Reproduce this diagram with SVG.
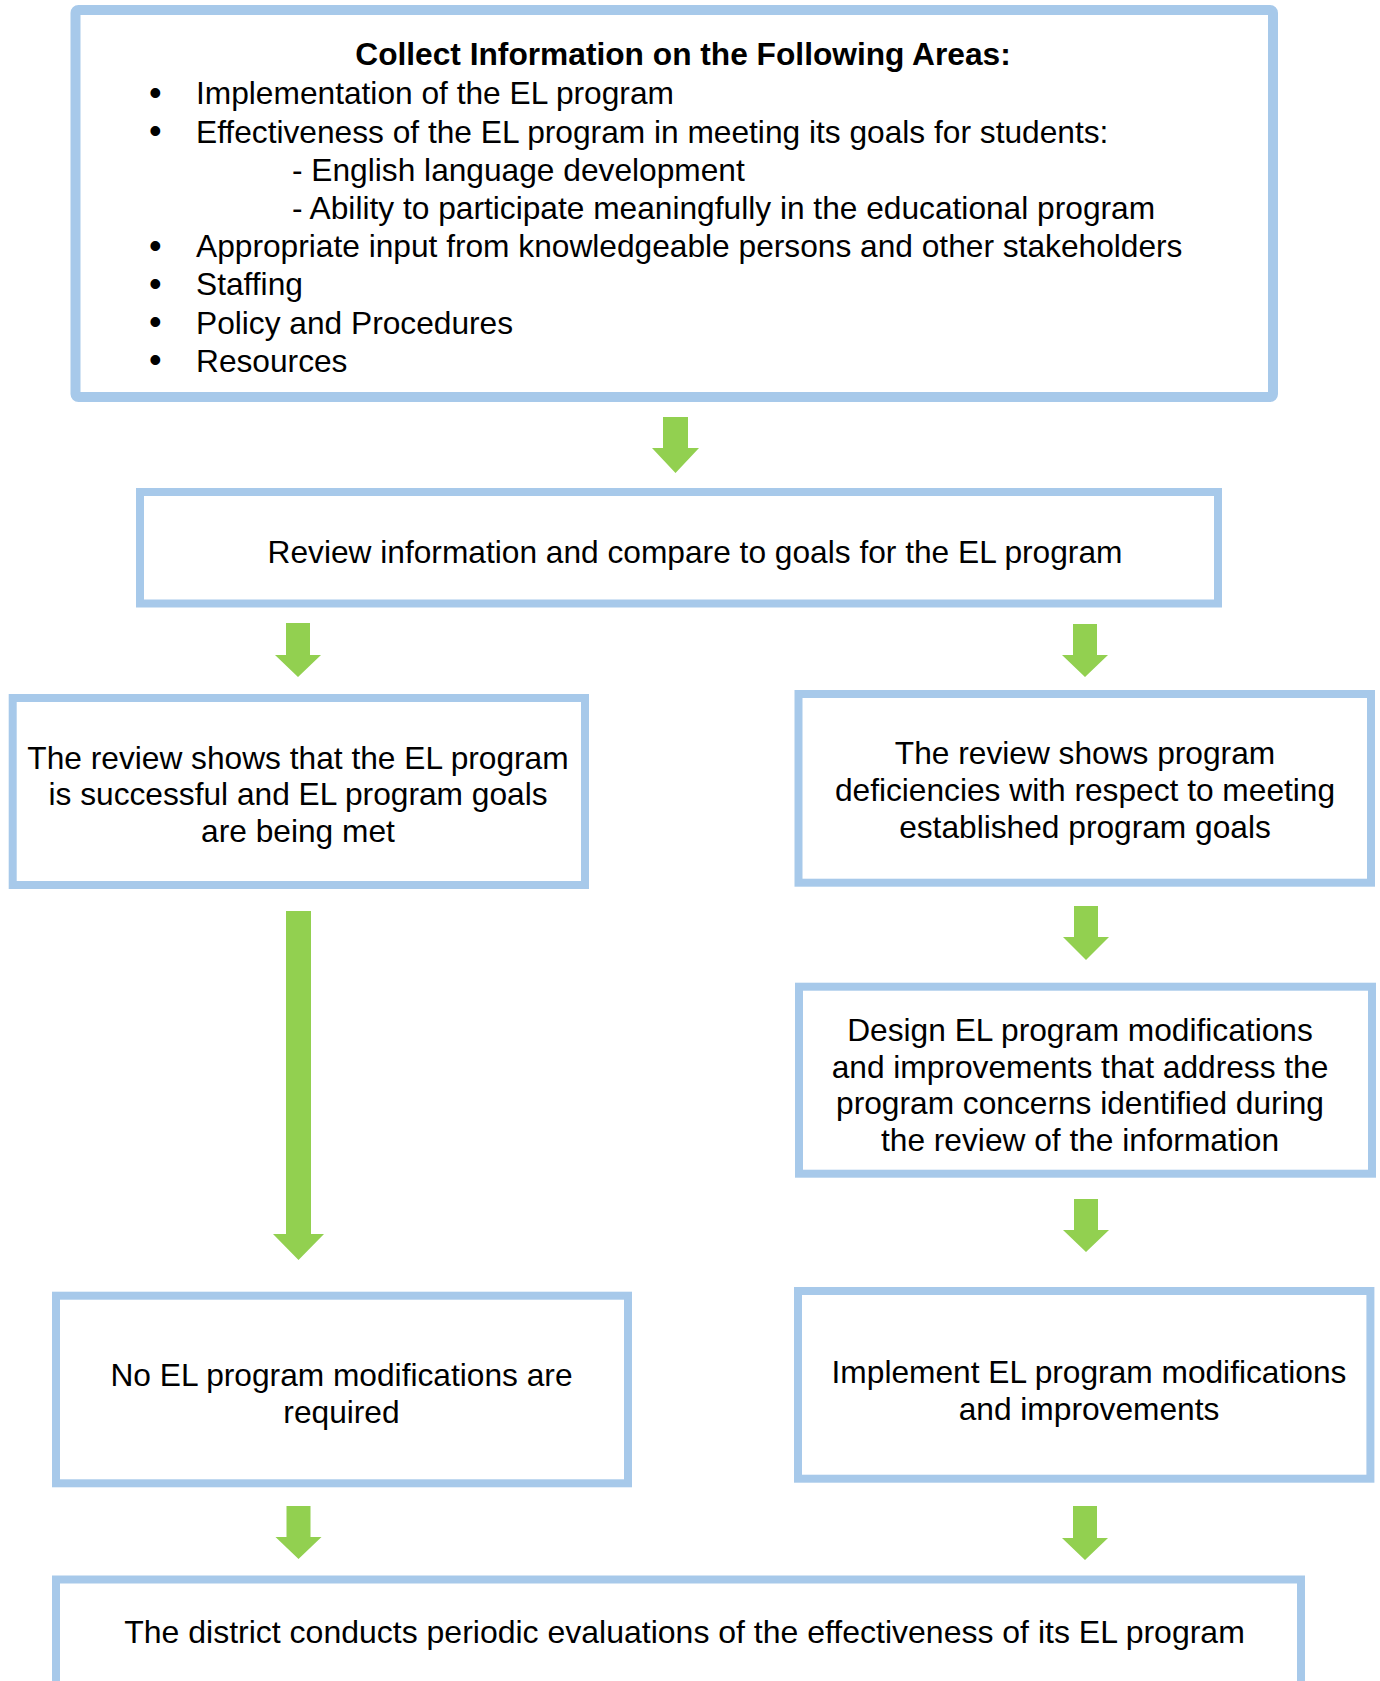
<svg xmlns="http://www.w3.org/2000/svg" width="1380" height="1681" viewBox="0 0 1380 1681">
<style>
.box{fill:#fff;stroke:#A7C9EA;stroke-width:8}
.t{font-family:"Liberation Sans",Arial,sans-serif;font-size:31.7px;fill:#000}
.c{text-anchor:middle}
.b{font-weight:bold}
.bl{font-size:36px}
.arr{fill:#92D050}
</style>
<rect width="1380" height="1681" fill="#fff"/>
<g id="connectors">
<polygon class="arr" points="663,417 688,417 688,448 699,448 675.5,473 652,448 663,448"/>
<polygon class="arr" points="286,623 310,623 310,655 321,655 298,677 275,655 286,655"/>
<polygon class="arr" points="1073,624 1097,624 1097,655 1108,655 1085,677 1062,655 1073,655"/>
<polygon class="arr" points="1074,906 1098,906 1098,937 1109,937 1086,960 1063,937 1074,937"/>
<polygon class="arr" points="286,911 311,911 311,1234 324,1234 298.5,1260 273,1234 286,1234"/>
<polygon class="arr" points="1074,1199 1098,1199 1098,1230 1109,1230 1086,1252 1063,1230 1074,1230"/>
<polygon class="arr" points="286.5,1506 310.5,1506 310.5,1537 321.5,1537 298.5,1559 275.5,1537 286.5,1537"/>
<polygon class="arr" points="1073,1506 1097,1506 1097,1538 1108,1538 1085,1560 1062,1538 1073,1538"/>
</g>
<g id="collect">
<rect class="box" x="75.5" y="10" width="1197.5" height="387" rx="3" style="stroke-width:10"/>
<text class="t c b" x="683" y="65">Collect Information on the Following Areas:</text>
<text class="t bl" x="149" y="105">•</text>
<text class="t" x="196" y="104.3">Implementation of the EL program</text>
<text class="t bl" x="149" y="143.2">•</text>
<text class="t" x="196" y="142.5">Effectiveness of the EL program in meeting its goals for students:</text>
<text class="t" x="292" y="180.7">- English language development</text>
<text class="t" x="292" y="218.9">- Ability to participate meaningfully in the educational program</text>
<text class="t bl" x="149" y="257.8">•</text>
<text class="t" x="196" y="257.1">Appropriate input from knowledgeable persons and other stakeholders</text>
<text class="t bl" x="149" y="296">•</text>
<text class="t" x="196" y="295.3">Staffing</text>
<text class="t bl" x="149" y="334.2">•</text>
<text class="t" x="196" y="333.5">Policy and Procedures</text>
<text class="t bl" x="149" y="372.4">•</text>
<text class="t" x="196" y="371.7">Resources</text>
</g>
<g id="review">
<rect class="box" x="140" y="492" width="1078" height="111.5"/>
<text class="t c" x="695" y="563">Review information and compare to goals for the EL program</text>
</g>
<g id="success">
<rect class="box" x="12.7" y="698" width="572.3" height="187"/>
<text class="t c" x="298" y="768.5">The review shows that the EL program</text>
<text class="t c" x="298" y="805">is successful and EL program goals</text>
<text class="t c" x="298" y="841.5">are being met</text>
</g>
<g id="deficiencies">
<rect class="box" x="798.5" y="694" width="572.5" height="188.7"/>
<text class="t c" x="1085" y="764.3">The review shows program</text>
<text class="t c" x="1085" y="801">deficiencies with respect to meeting</text>
<text class="t c" x="1085" y="837.7">established program goals</text>
</g>
<g id="design">
<rect class="box" x="799" y="986.7" width="573" height="187"/>
<text class="t c" x="1080" y="1041">Design EL program modifications</text>
<text class="t c" x="1080" y="1077.7">and improvements that address the</text>
<text class="t c" x="1080" y="1114.3">program concerns identified during</text>
<text class="t c" x="1080" y="1151">the review of the information</text>
</g>
<g id="nomod">
<rect class="box" x="56" y="1295.7" width="572" height="187.6"/>
<text class="t c" x="341.5" y="1386">No EL program modifications are</text>
<text class="t c" x="341.5" y="1422.7">required</text>
</g>
<g id="implement">
<rect class="box" x="798" y="1291" width="572.4" height="187.7"/>
<text class="t c" x="1089" y="1383.3">Implement EL program modifications</text>
<text class="t c" x="1089" y="1420">and improvements</text>
</g>
<g id="evaluate">
<rect class="box" x="56" y="1579.5" width="1245" height="200"/>
<text class="t c" x="684.5" y="1643.3" style="font-size:32px">The district conducts periodic evaluations of the effectiveness of its EL program</text>
</g>
</svg>
